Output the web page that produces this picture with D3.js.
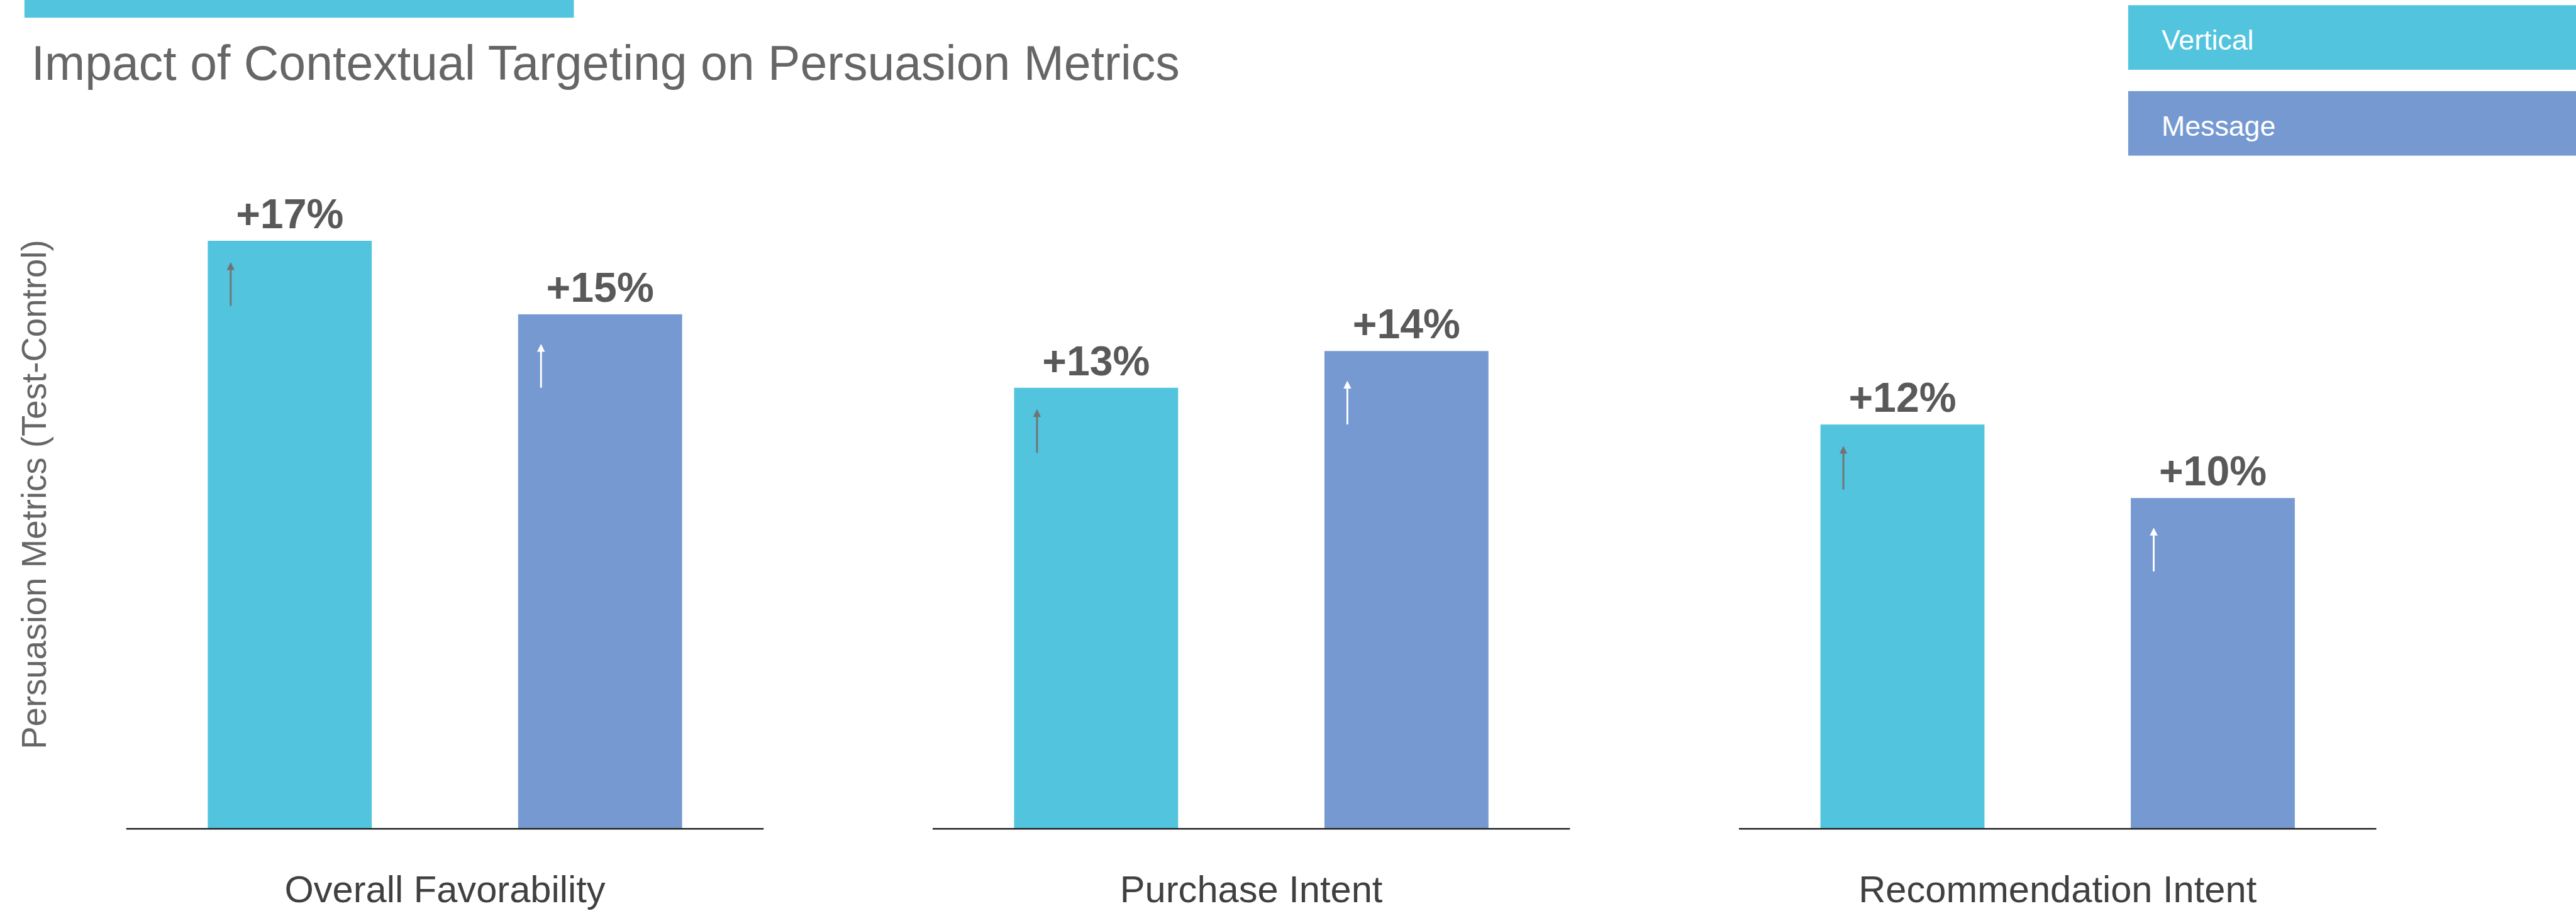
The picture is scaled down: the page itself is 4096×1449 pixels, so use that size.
<!DOCTYPE html>
<html>
<head>
<meta charset="utf-8">
<script src="https://cdn.jsdelivr.net/npm/d3@7"></script>
<style>
  html, body { margin: 0; padding: 0; background: #ffffff; overflow: hidden; }
  svg { display: block; }
  text { font-family: "Liberation Sans", Arial, Helvetica, sans-serif; }
</style>
</head>
<body>
<script>
// ---- data ----
const categories = ["Overall Favorability", "Purchase Intent", "Recommendation Intent"];
const seriesNames = ["Vertical", "Message"];
const verticalLift = [0.17, 0.13, 0.12];
const messageLift = [0.15, 0.14, 0.10];
const chartTitle = "Impact of Contextual Targeting on Persuasion Metrics";
const yAxisTitle = "Persuasion Metrics (Test-Control)";

// ---- layout (drawn in a 4947 x 1750 design space, then scaled to the window) ----
const W = 4096, H = 1449;
const designW = 4947;
const k = W / designW;

const colors = { Vertical: "#52C4DE", Message: "#7699D2" };
const arrowColors = { Vertical: "#737373", Message: "#ffffff" };
const arrowOffset = { Vertical: 41, Message: 57 };

const svg = d3.select("body").append("svg")
  .attr("width", W).attr("height", H);

const root = svg.append("g").attr("transform", `scale(${k})`);

// accent bar above the title
root.append("rect")
  .attr("x", 47).attr("y", 0).attr("width", 1055).attr("height", 34)
  .attr("fill", "#52C4DE");

// title
root.append("text")
  .attr("x", 60).attr("y", 154)
  .attr("font-size", 93).attr("fill", "#666666")
  .text(chartTitle);

// y-axis title
root.append("text")
  .attr("transform", "translate(88,950) rotate(-90)")
  .attr("text-anchor", "middle")
  .attr("font-size", 66).attr("fill", "#666666")
  .text(yAxisTitle);

// legend
const legendItems = seriesNames.map((s, i) => ({ name: s, y: 10 + i * 165 }));
const legend = root.append("g").selectAll("g").data(legendItems).join("g")
  .attr("transform", d => `translate(4087,${d.y})`);
legend.append("rect")
  .attr("width", designW - 4087).attr("height", 124)
  .attr("fill", d => colors[d.name]);
legend.append("text")
  .attr("x", 64).attr("y", 62 + 24)
  .attr("font-size", 54).attr("fill", "#ffffff")
  .text(d => d.name);

// scales
const baseline = 1592;
const y = d3.scaleLinear().domain([0.01, 0.18]).range([baseline, 392]);
const panel = d3.scaleBand().domain(categories).range([242.5, 4563.5]).paddingInner(0.2096);
const inner = d3.scaleBand().domain(seriesNames).range([0, panel.bandwidth()])
  .paddingInner(0.4715).paddingOuter(0.2626);

const rows = categories.map((c, i) => ({
  category: c,
  values: [
    { series: "Vertical", value: verticalLift[i] },
    { series: "Message", value: messageLift[i] }
  ]
}));

const panels = root.append("g").selectAll("g.panel").data(rows).join("g")
  .attr("class", "panel")
  .attr("transform", d => `translate(${panel(d.category)},0)`);

// bars
const bars = panels.selectAll("g.bar").data(d => d.values).join("g").attr("class", "bar");
bars.append("rect")
  .attr("x", d => inner(d.series))
  .attr("y", d => y(d.value))
  .attr("width", inner.bandwidth())
  .attr("height", d => baseline - y(d.value))
  .attr("fill", d => colors[d.series]);

// upward arrows inside bars
bars.each(function(d) {
  const g = d3.select(this);
  const ax = inner(d.series) + 44;
  const tip = y(d.value) + arrowOffset[d.series];
  const len = 84, headH = 15, headW = 15;
  g.append("line")
    .attr("x1", ax).attr("x2", ax)
    .attr("y1", tip + headH - 1).attr("y2", tip + len)
    .attr("stroke", arrowColors[d.series]).attr("stroke-width", 3.5);
  g.append("path")
    .attr("d", `M${ax},${tip} L${ax + headW / 2},${tip + headH} L${ax - headW / 2},${tip + headH} Z`)
    .attr("fill", arrowColors[d.series]);
});

// value labels
const fmt = v => "+" + Math.round(v * 100) + "%";
bars.append("text")
  .attr("x", d => inner(d.series) + inner.bandwidth() / 2)
  .attr("y", d => y(d.value) - 24)
  .attr("text-anchor", "middle")
  .attr("font-size", 80).attr("font-weight", "bold")
  .attr("fill", "#595959")
  .text(d => fmt(d.value));

// panel baselines
panels.append("line")
  .attr("x1", 0).attr("x2", panel.bandwidth())
  .attr("y1", baseline).attr("y2", baseline)
  .attr("stroke", "#222222").attr("stroke-width", 3);

// category labels
panels.append("text")
  .attr("x", panel.bandwidth() / 2).attr("y", 1733)
  .attr("text-anchor", "middle")
  .attr("font-size", 72).attr("fill", "#404040")
  .text(d => d.category);
</script>
</body>
</html>
